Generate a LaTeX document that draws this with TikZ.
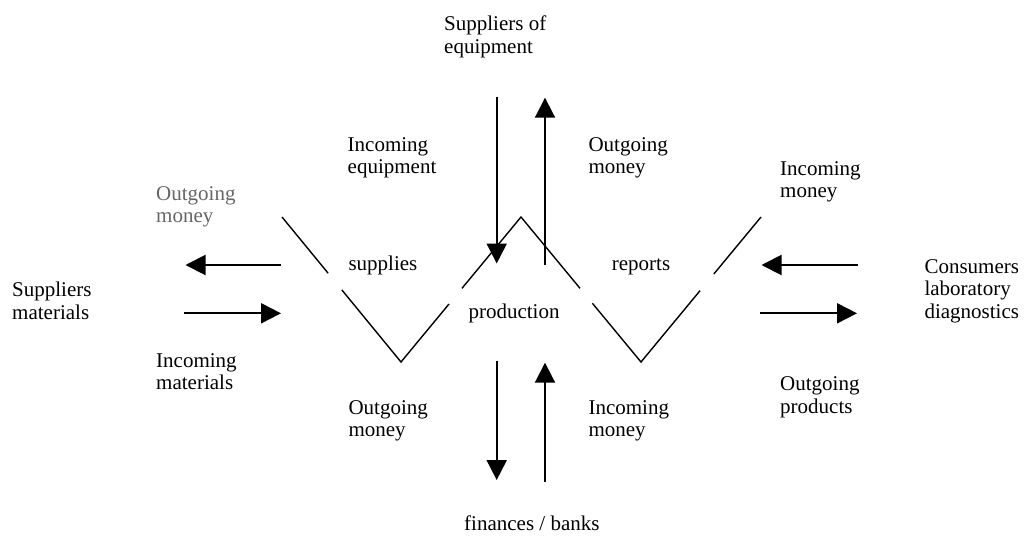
\documentclass[tikz,border=0pt]{standalone}
\usepackage{fontspec}
\setmainfont{Liberation Serif}
\usetikzlibrary{arrows.meta,calc}
\begin{document}
\begin{tikzpicture}[x=1pt,y=-1pt,
  lbl/.style={anchor=base west, inner sep=0pt, align=left, font=\fontsize{21}{22.5}\selectfont},
  flow/.style={line width=2pt, -{Triangle[length=20pt,width=20pt]}},
  vline/.style={line width=1.4pt}]
\path[use as bounding box] (0,0) rectangle (1024,536);

% labels (y = baseline of the last line)
\node[lbl] (seq) at (444,53) {Suppliers of\\equipment};
\node[lbl] (ieq) at (347.5,173.5) {Incoming\\equipment};
\node[lbl] (omt) at (588.3,173.5) {Outgoing\\money};
\node[lbl, text=black!60] (oml) at (156,222.7) {Outgoing\\money};
\node[lbl] (imr) at (780,197.5) {Incoming\\money};
\node[lbl] (sup) at (12,319) {Suppliers\\materials};
\node[lbl] (con) at (924.3,318.3) {Consumers\\laboratory\\diagnostics};
\node[lbl] (supplies) at (348.3,270.7) {supplies};
\node[lbl] (reports) at (611.7,270.7) {reports};
\node[lbl] (prod) at (468.3,318.3) {production};
\node[lbl] (iml) at (156,389.5) {Incoming\\materials};
\node[lbl] (opr) at (780,413) {Outgoing\\products};
\node[lbl] (omb) at (348.3,436.5) {Outgoing\\money};
\node[lbl] (imb) at (588.3,436.5) {Incoming\\money};
\node[lbl] (fin) at (464,530.5) {finances / banks};

% W-shaped line
\coordinate (w1) at (282,217);
\coordinate (w2) at (401,362);
\coordinate (w3) at (521,217);
\coordinate (w4) at (641,362);
\coordinate (w5) at (761,217);
\draw[vline] (w1) -- ($(w1)!0.388!(w2)$);
\draw[vline] ($(w1)!0.503!(w2)$) -- (w2) -- ($(w2)!0.40!(w3)$);
\draw[vline] ($(w2)!0.508!(w3)$) -- (w3) -- ($(w3)!0.492!(w4)$);
\draw[vline] ($(w3)!0.595!(w4)$) -- (w4) -- ($(w4)!0.492!(w5)$);
\draw[vline] ($(w4)!0.607!(w5)$) -- (w5);

% left arrows
\coordinate (la1) at (281,265);   \coordinate (la2) at (185.5,265);
\coordinate (lb1) at (184,313.3); \coordinate (lb2) at (281,313.3);
\draw[flow] (la1) -- (la2);
\draw[flow] (lb1) -- (lb2);

% right arrows
\coordinate (ra1) at (858,265);   \coordinate (ra2) at (761.5,265);
\coordinate (rb1) at (760,313.3); \coordinate (rb2) at (857,313.3);
\draw[flow] (ra1) -- (ra2);
\draw[flow] (rb1) -- (rb2);

% top arrows
\coordinate (ta1) at (496.7,96.7);  \coordinate (ta2) at (496.7,263.5);
\coordinate (tb1) at (545,265);     \coordinate (tb2) at (545,97.7);
\draw[flow] (ta1) -- (ta2);
\draw[flow] (tb1) -- (tb2);

% bottom arrows
\coordinate (ba1) at (496.7,360.7); \coordinate (ba2) at (496.7,480);
\coordinate (bb1) at (545,481.7);   \coordinate (bb2) at (545,362.7);
\draw[flow] (ba1) -- (ba2);
\draw[flow] (bb1) -- (bb2);
\end{tikzpicture}
\end{document}
